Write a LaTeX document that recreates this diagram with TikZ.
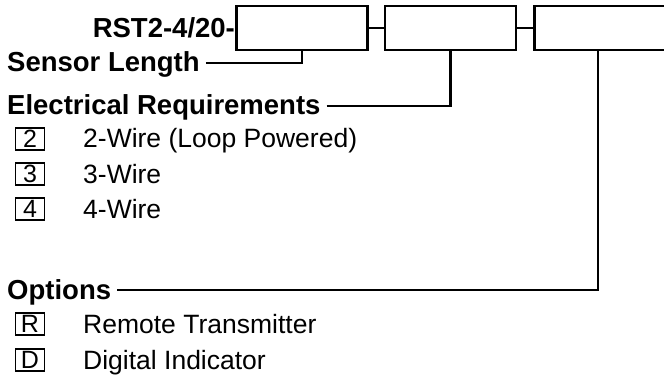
\documentclass[tikz,border=0pt]{standalone}
\usepackage{fontspec}
\setmainfont{Liberation Sans}
\begin{document}
\begin{tikzpicture}[x=1pt, y=-1pt, line join=miter,
  every node/.style={font=\fontsize{26.5}{30}\selectfont, inner sep=0pt},
  head/.style={font=\fontsize{27.5}{31}\selectfont\bfseries, anchor=base west},
  item/.style={anchor=base west},
  slot/.style={draw, line width=2.8pt, minimum width=131pt, minimum height=44pt},
  code/.style={draw, line width=1.8pt, minimum width=29pt, minimum height=22pt, font=\fontsize{25}{28}\selectfont},
  lead/.style={line width=2.4pt}]
  \useasboundingbox (0,0) rectangle (664,377);
  % code slots
  \node[slot] (s1) at (302,28) {};
  \node[slot] (s2) at (450.5,28) {};
  \node[slot] (s3) at (600,28) {};
  \draw[lead] (s1.east) -- (s2.west);
  \draw[lead] (s2.east) -- (s3.west);
  \node[font=\fontsize{27.5}{31}\selectfont\bfseries, anchor=east] (model) at (s1.west) {RST2-4/20-};
  % headings
  \node[head] (len) at (7,72) {Sensor Length};
  \node[head] (elec) at (7,115) {Electrical Requirements};
  \node[head] (opt) at (7,299) {Options};
  \coordinate (l1) at (s1.south |- 0,63);
  \coordinate (l2) at (s2.south |- 0,106);
  \coordinate (l3) at (598,290);
  \draw[lead] ([xshift=6pt]len.east |- l1) -- (l1) -- (l1 |- s1.south);
  \draw[lead] ([xshift=6pt]elec.east |- l2) -- (l2) -- (l2 |- s2.south);
  \draw[lead] ([xshift=6pt]opt.east |- l3) -- (l3) -- (l3 |- s3.south);
  % electrical choices
  \node[code] (c2) at (30,139) {2};
  \node[code] (c3) at (30,174) {3};
  \node[code] (c4) at (30,209) {4};
  \node[item] (t2) at (83,148) {2-Wire (Loop Powered)};
  \node[item] (t3) at (83,183) {3-Wire};
  \node[item] (t4) at (83,218) {4-Wire};
  % option choices
  \node[code] (cr) at (30,324) {R};
  \node[code] (cd) at (30,360) {D};
  \node[item] (tr) at (83,333) {Remote Transmitter};
  \node[item] (td) at (83,369) {Digital Indicator};
\end{tikzpicture}
\end{document}
